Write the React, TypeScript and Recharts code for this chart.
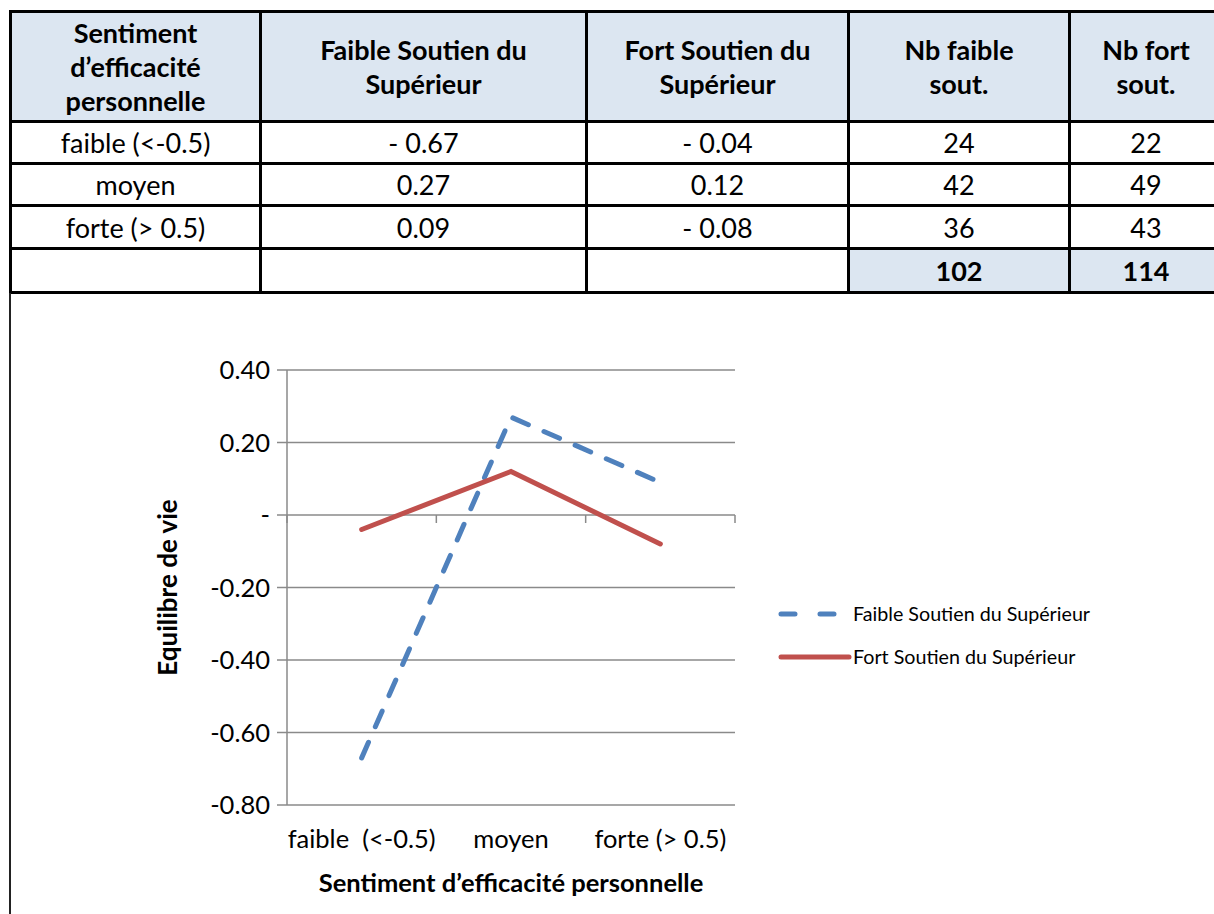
import React from 'react';
import { LineChart, Line, XAxis, YAxis, CartesianGrid, Legend, ReferenceLine } from 'recharts';

const tableCategories = ['faible (<-0.5)', 'moyen', 'forte (> 0.5)'];
const chartCategories = ['faible\u00a0 (<-0.5)', 'moyen', 'forte (> 0.5)'];
const faibleSoutien = [-0.67, 0.27, 0.09];
const fortSoutien = [-0.04, 0.12, -0.08];
const nbFaible = [24, 42, 36];
const nbFort = [22, 49, 43];
const totalFaible = 102;
const totalFort = 114;
const yTicks = [-0.8, -0.6, -0.4, -0.2, 0, 0.2, 0.4];
const seriesNames = ['Faible Soutien du Supérieur', 'Fort Soutien du Supérieur'];

const BLUE = '#4F81BD';
const RED = '#C0504D';
const GRID = '#8a8a8a';
const FONT = 'Lato, "Open Sans", sans-serif';

const chartData = chartCategories.map((c, i) => ({
  x: i + 0.5,
  name: c,
  faible: faibleSoutien[i],
  fort: fortSoutien[i],
}));

const fmtTable = (v: number) => (v < 0 ? '- ' + Math.abs(v).toFixed(2) : v.toFixed(2));
const fmtAxis = (v: number) => (Math.abs(v) < 1e-9 ? '-' : v.toFixed(2));

const cellBorder = '3px solid #000';
const headBg = '#dce6f1';

const th: React.CSSProperties = {
  border: cellBorder,
  background: headBg,
  fontWeight: 700,
  textAlign: 'center',
  verticalAlign: 'middle',
  lineHeight: '34px',
  padding: 0,
};
const td: React.CSSProperties = {
  border: cellBorder,
  textAlign: 'center',
  verticalAlign: 'middle',
  padding: 0,
};

const YLabel = (props: any) => {
  const vb = props.viewBox || {};
  const cx = vb.x + 80;
  const cy = vb.y + vb.height / 2;
  return (
    <text
      x={cx}
      y={cy}
      transform={`rotate(-90 ${cx} ${cy})`}
      textAnchor="middle"
      dominantBaseline="central"
      fontFamily={FONT}
      fontWeight={700}
      fontSize={26}
      fill="#000"
    >
      Equilibre de vie
    </text>
  );
};

const XLabel = (props: any) => {
  const vb = props.viewBox || {};
  const cx = vb.x + vb.width / 2;
  const cy = vb.y + 77;
  return (
    <text
      x={cx}
      y={cy}
      textAnchor="middle"
      dominantBaseline="central"
      fontFamily={FONT}
      fontWeight={700}
      fontSize={25.5}
      fill="#000"
    >
      Sentiment d’efficacité personnelle
    </text>
  );
};

const LegendContent = () => (
  <div style={{ fontFamily: FONT, fontSize: 19.7, color: '#000' }}>
    <div style={{ display: 'flex', alignItems: 'center', height: 43 }}>
      <svg width={75} height={12} style={{ display: 'block' }}>
        <line x1={3} y1={6} x2={60} y2={6} stroke={BLUE} strokeWidth={5} strokeDasharray="14 25" strokeLinecap="round" />
      </svg>
      <span style={{ whiteSpace: 'nowrap' }}>{seriesNames[0]}</span>
    </div>
    <div style={{ display: 'flex', alignItems: 'center', height: 43 }}>
      <svg width={75} height={12} style={{ display: 'block' }}>
        <line x1={3} y1={6} x2={71} y2={6} stroke={RED} strokeWidth={5} strokeLinecap="round" />
      </svg>
      <span style={{ whiteSpace: 'nowrap' }}>{seriesNames[1]}</span>
    </div>
  </div>
);

export default function App() {
  return (
    <div
      style={{
        position: 'fixed',
        left: 0,
        top: 0,
        width: 1214,
        height: 914,
        overflow: 'hidden',
        background: '#fff',
        fontFamily: FONT,
      }}
    >
      <table
        style={{
          position: 'absolute',
          left: 9,
          top: 10,
          borderCollapse: 'collapse',
          tableLayout: 'fixed',
          width: 1212,
          fontSize: 27,
          fontFamily: FONT,
          color: '#000',
        }}
      >
        <colgroup>
          <col style={{ width: 250 }} />
          <col style={{ width: 326 }} />
          <col style={{ width: 262 }} />
          <col style={{ width: 221 }} />
          <col style={{ width: 153 }} />
        </colgroup>
        <tbody>
          <tr style={{ height: 110 }}>
            <td style={th}>Sentiment<br />d’efficacité<br />personnelle</td>
            <td style={th}>Faible Soutien du<br />Supérieur</td>
            <td style={th}>Fort Soutien du<br />Supérieur</td>
            <td style={th}>Nb faible<br />sout.</td>
            <td style={th}>Nb fort<br />sout.</td>
          </tr>
          {tableCategories.map((c, i) => (
            <tr key={c} style={{ height: i === 2 ? 43 : 42 }}>
              <td style={td}>{c}</td>
              <td style={td}>{fmtTable(faibleSoutien[i])}</td>
              <td style={td}>{fmtTable(fortSoutien[i])}</td>
              <td style={td}>{nbFaible[i]}</td>
              <td style={td}>{nbFort[i]}</td>
            </tr>
          ))}
          <tr style={{ height: 44 }}>
            <td style={td}></td>
            <td style={td}></td>
            <td style={td}></td>
            <td style={{ ...td, background: headBg, fontWeight: 700 }}>{totalFaible}</td>
            <td style={{ ...td, background: headBg, fontWeight: 700 }}>{totalFort}</td>
          </tr>
        </tbody>
      </table>

      <div
        style={{
          position: 'absolute',
          left: 9,
          top: 293,
          width: 2,
          height: 621,
          background: '#222',
        }}
      />

      <div style={{ position: 'absolute', left: 10, top: 292 }}>
        <LineChart
          width={1204}
          height={622}
          data={chartData}
          margin={{ top: 78, right: 479, left: 77, bottom: 9 }}
        >
          <CartesianGrid horizontal={true} vertical={false} stroke={GRID} strokeWidth={1.5} />
          <XAxis
            dataKey="x"
            type="number"
            domain={[0, 3]}
            ticks={[0.5, 1.5, 2.5]}
            tickFormatter={(v: number) => chartCategories[Math.floor(v)]}
            axisLine={false}
            tickLine={false}
            tickSize={0}
            tickMargin={25}
            height={100}
            interval={0}
            tick={{ fill: '#000', fontSize: 25.5, fontFamily: FONT }}
            label={{ content: XLabel }}
          />
          <YAxis
            type="number"
            domain={[-0.8, 0.4]}
            ticks={yTicks}
            tickFormatter={fmtAxis}
            width={200}
            interval={0}
            axisLine={{ stroke: GRID, strokeWidth: 1.5 }}
            tickLine={{ stroke: GRID, strokeWidth: 1.5 }}
            tickSize={10}
            tickMargin={7}
            tick={{ fill: '#000', fontSize: 25.5, fontFamily: FONT }}
            label={{ content: YLabel }}
          />
          {[0, 1, 2, 3].map((b) => (
            <ReferenceLine
              key={b}
              segment={[{ x: b, y: 0 }, { x: b, y: -0.022 }]}
              stroke={GRID}
              strokeWidth={1.5}
            />
          ))}
          <Legend
            layout="vertical"
            align="center"
            verticalAlign="middle"
            wrapperStyle={{ left: 768, top: 300, width: 360 }}
            content={LegendContent}
          />
          <Line
            type="linear"
            dataKey="faible"
            name={seriesNames[0]}
            stroke={BLUE}
            strokeWidth={5}
            strokeDasharray="17 17"
            strokeLinecap="round"
            dot={false}
            activeDot={false}
            isAnimationActive={false}
          />
          <Line
            type="linear"
            dataKey="fort"
            name={seriesNames[1]}
            stroke={RED}
            strokeWidth={5}
            strokeLinecap="round"
            dot={false}
            activeDot={false}
            isAnimationActive={false}
          />
        </LineChart>
      </div>
    </div>
  );
}
